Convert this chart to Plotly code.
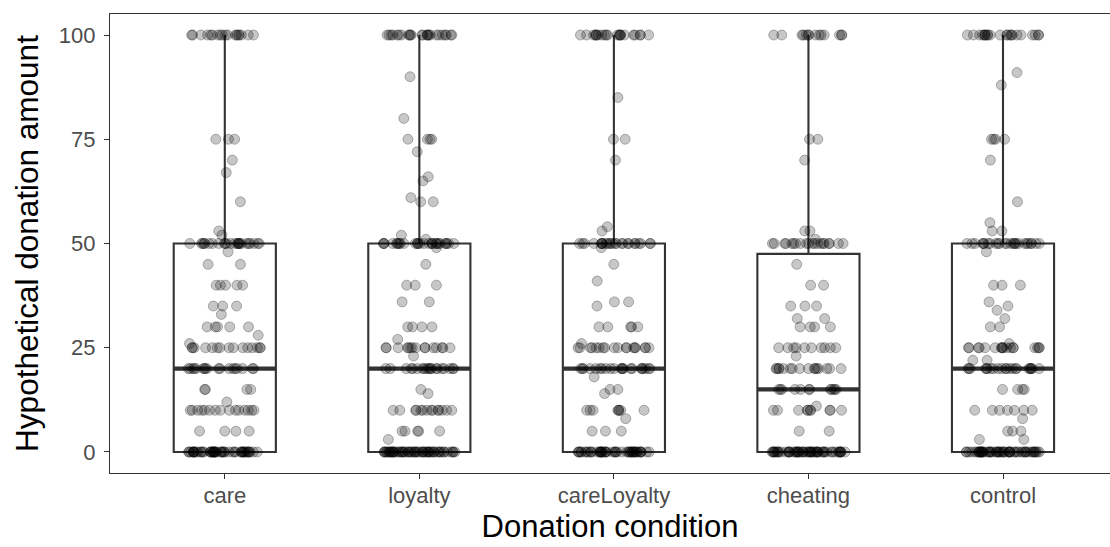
import numpy as np
import plotly.graph_objects as go

categories = ["care", "loyalty", "careLoyalty", "cheating", "control"]

# Distinct donation values and how many participants gave each
care_values = [0, 5, 10, 12, 15, 20, 25, 26, 28, 30, 33, 35, 40, 45, 48, 50, 52, 53, 60, 67, 70, 75, 100]
care_counts = [50, 4, 15, 1, 4, 18, 15, 1, 1, 5, 1, 3, 5, 2, 1, 25, 1, 1, 1, 1, 1, 3, 18]

loyalty_values = [0, 3, 5, 10, 14, 15, 20, 23, 25, 27, 30, 36, 40, 45, 49, 50, 51, 52, 60, 61, 65, 66, 72, 75, 80, 90, 100]
loyalty_counts = [57, 1, 5, 14, 1, 1, 20, 1, 15, 1, 4, 2, 3, 1, 1, 30, 1, 1, 2, 1, 1, 1, 1, 4, 1, 1, 25]

careLoyalty_values = [0, 5, 8, 10, 14, 15, 18, 20, 25, 26, 30, 35, 36, 41, 45, 49, 50, 53, 54, 70, 75, 85, 100]
careLoyalty_counts = [48, 3, 1, 8, 1, 2, 1, 22, 18, 1, 5, 1, 2, 1, 1, 1, 25, 1, 1, 1, 2, 1, 22]

cheating_values = [0, 5, 10, 11, 15, 20, 23, 25, 30, 32, 35, 40, 45, 50, 51, 53, 70, 75, 100]
cheating_counts = [55, 2, 10, 1, 12, 16, 1, 10, 4, 2, 3, 2, 1, 20, 1, 2, 1, 2, 14]

control_values = [0, 3, 5, 8, 10, 15, 20, 22, 25, 26, 30, 32, 34, 35, 36, 40, 48, 50, 53, 55, 60, 70, 75, 88, 91, 100]
control_counts = [55, 2, 3, 1, 7, 4, 22, 2, 18, 1, 2, 1, 1, 1, 1, 3, 1, 26, 2, 1, 1, 1, 4, 1, 1, 22]

# Box statistics (ggplot2 boxplot)
box_q1 = [0, 0, 0, 0, 0]
box_median = [20, 20, 20, 15, 20]
box_q3 = [50, 50, 50, 47.5, 50]
box_lower = [0, 0, 0, 0, 0]
box_upper = [100, 100, 100, 100, 100]

groups = [
    (care_values, care_counts),
    (loyalty_values, loyalty_counts),
    (careLoyalty_values, careLoyalty_counts),
    (cheating_values, cheating_counts),
    (control_values, control_counts),
]

pt_x, pt_y = [], []
for cat, (vals, cnts) in zip(categories, groups):
    v = np.repeat(vals, cnts)
    pt_y.extend(v.tolist())
    pt_x.extend([cat] * len(v))

DARK = "#333333"

fig = go.Figure()

# Box with whiskers
fig.add_trace(go.Box(
    x=categories, q1=box_q1, median=box_median, q3=box_q3,
    lowerfence=box_lower, upperfence=box_upper,
    fillcolor="white", line=dict(color=DARK, width=2.1),
    whiskerwidth=0, boxpoints=False, hoverinfo="skip", showlegend=False,
))

# Thick median line
fig.add_trace(go.Box(
    x=categories, q1=box_median, median=box_median, q3=box_median,
    lowerfence=box_median, upperfence=box_median,
    fillcolor="rgba(0,0,0,0)", line=dict(color=DARK, width=4.2),
    whiskerwidth=0, boxpoints=False, hoverinfo="skip", showlegend=False,
))

# Jittered raw responses
fig.add_trace(go.Box(
    x=pt_x, y=pt_y, boxpoints="all", jitter=0.72, pointpos=0,
    fillcolor="rgba(0,0,0,0)", line=dict(color="rgba(0,0,0,0)", width=0),
    whiskerwidth=0,
    marker=dict(size=10, color="rgba(0,0,0,0.22)",
                line=dict(color="rgba(0,0,0,0.27)", width=1)),
    hoveron="points", showlegend=False,
))

fig.update_layout(
    width=1110, height=547,
    margin=dict(l=110, r=0, t=14, b=74),
    paper_bgcolor="white", plot_bgcolor="white",
    boxmode="overlay", boxgap=0.25,
    font=dict(family="Liberation Sans, Arial, sans-serif", color="black"),
    showlegend=False,
)

fig.update_xaxes(
    type="category", categoryorder="array", categoryarray=categories,
    range=[-0.59, 4.55], automargin=False,
    showgrid=False, zeroline=False,
    showline=True, linecolor=DARK, linewidth=1.2, mirror=True,
    ticks="outside", ticklen=5, tickwidth=1.2, tickcolor=DARK,
    tickfont=dict(size=22, color="#4D4D4D"), ticklabelstandoff=-3,
    title=dict(text="Donation condition", font=dict(size=31, color="black"), standoff=8),
)
fig.update_yaxes(
    range=[-5.04, 105.04], automargin=False,
    tickvals=[0, 25, 50, 75, 100],
    showgrid=False, zeroline=False,
    showline=True, linecolor=DARK, linewidth=1.2, mirror=False,
    ticks="outside", ticklen=5, tickwidth=1.2, tickcolor=DARK,
    tickfont=dict(size=22, color="#4D4D4D"), ticklabelstandoff=4,
    title=dict(text="Hypothetical donation amount", font=dict(size=31.5, color="black"), standoff=10),
)

fig.write_html(
    "out.html",
    config={"displayModeBar": False},
    post_script="document.body.style.margin='0px';document.body.style.overflow='hidden';",
)
